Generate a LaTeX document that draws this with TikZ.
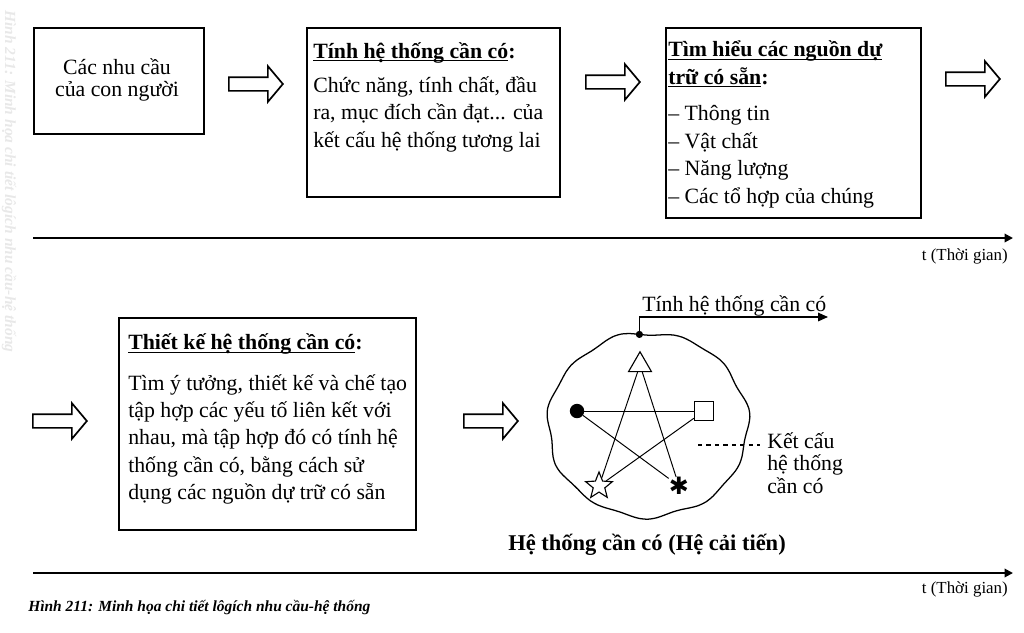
\documentclass[tikz,border=0pt]{standalone}
\usepackage{fontspec}
\setmainfont{Liberation Serif}
\newfontfamily\dingfont{DejaVu Sans}
\usepackage{xcolor}
\usepackage{tikz}
\usetikzlibrary{positioning, arrows.meta, calc, shapes.arrows, shapes.geometric}
\definecolor{MarkGray}{gray}{0.91}
\newcommand{\boxsize}{\fontsize{15.5}{19.5}\selectfont}
\newcommand{\headline}[1]{\rule{0pt}{14pt}\textbf{\underline{\smash{#1}}}}

\tikzset{
  frame/.style={draw, line width=1.2pt, inner sep=0pt},
  boxtext/.style={anchor=north west, inner sep=0pt, align=left, font=\boxsize},
  bigarrow/.style={single arrow, draw, line width=1.2pt, inner sep=0pt,
    inner ysep=0.15cm, minimum height=1.35cm,
    single arrow head extend=0.275cm, single arrow tip angle=100, anchor=tail},
  timeline/.style={line width=1.4pt, -{Triangle[length=6pt,width=6pt]}},
  timelabel/.style={anchor=east, inner sep=0pt, font=\fontsize{12}{14}\selectfont},
  link/.style={line width=0.7pt},
  figure/.style={draw, fill=white, line width=0.8pt, inner sep=0pt},
}

\begin{document}
\begin{tikzpicture}[x=0.025cm, y=-0.025cm,
    declare function={wob(\t)=1+0.016*sin(11*\t)+0.01*sin(7*\t+40);}]
  \useasboundingbox (0,0) rectangle (1024,632);
  \node[rotate=-90, anchor=west, inner sep=0pt, text=MarkGray,
    font=\fontsize{11}{13}\selectfont\bfseries\itshape] (mark) at (9,10)
    {Hình 211: Minh họa chi tiết lôgích nhu cầu-hệ thống};

  % row one
  \node[frame, minimum width=4.25cm, minimum height=2.65cm, anchor=north west] (needs) at (33,27) {};
  \node[anchor=north, inner sep=0pt, align=center, font=\fontsize{15.5}{16}\selectfont] (needst) at (117,58)
    {Các nhu cầu\\của con người};
  \node[bigarrow] (go1) at (228,84) {};

  \node[frame, minimum width=6.325cm, minimum height=4.225cm, anchor=north west] (props) at (306,27) {};
  \node[boxtext] (propst) at (313,38.5)
    {\headline{Tính hệ thống cần có}\textbf{:}\\[4.5pt]
     Chức năng, tính chất, đầu\\ra, mục đích cần đạt... của\\kết cấu hệ thống tương lai};
  \node[bigarrow] (go2) at (585,82) {};

  \node[frame, minimum width=6.375cm, minimum height=4.75cm, anchor=north west] (stock) at (665,27) {};
  \node[boxtext] (stockt) at (668,37)
    {\headline{Tìm hiểu các nguồn dự}\\\headline{trữ có sẵn}\textbf{:}\\[6.5pt]
     – Thông tin\\– Vật chất\\– Năng lượng\\– Các tổ hợp của chúng};
  \node[bigarrow] (go3) at (945,79) {};

  \coordinate (t1a) at (33,238);
  \coordinate (t1b) at (1013,238);
  \draw[timeline] (t1a) -- (t1b);
  \node[timelabel] (t1l) at (1008,256) {t (Thời gian)};

  % row two
  \node[bigarrow] (go4) at (32,421) {};
  \node[frame, minimum width=7.425cm, minimum height=5.3cm, anchor=north west] (design) at (118,317) {};
  \node[boxtext] (designt) at (128,330)
    {\headline{Thiết kế hệ thống cần có}\textbf{:}\\[9pt]
     Tìm ý tưởng, thiết kế và chế tạo\\tập hợp các yếu tố liên kết với\\nhau, mà tập hợp đó có tính hệ\\thống cần có, bằng cách sử\\dụng các nguồn dự trữ có sẵn};
  \node[bigarrow] (go5) at (463,421) {};

  \draw[line width=0.9pt] plot[smooth cycle, samples=72, domain=0:355, variable=\t]
    ({648+100*wob(\t)*cos(\t)}, {425-92*wob(\t)*sin(\t)});
  \coordinate (topdot) at ({648+100*wob(95)*cos(95)}, {425-92*wob(95)*sin(95)});
  \node[circle, fill=black, minimum size=0.18cm, inner sep=0pt] (tdot) at (topdot) {};
  \coordinate (propend) at (828,317);
  \draw[line width=1pt, -{Triangle[length=7pt,width=6pt]}] (tdot.center) |- (propend);
  \node[anchor=base west, inner sep=0pt, font=\boxsize] (proplbl) at (642,311) {Tính hệ thống cần có};

  \node[figure, regular polygon, regular polygon sides=3, minimum size=0.66cm] (tri) at (640,365) {};
  \node[circle, fill=black, minimum size=0.36cm, inner sep=0pt] (ball) at (577,411) {};
  \node[figure, rectangle, minimum size=0.48cm] (sq) at (704,411) {};
  \node[figure, star, star points=5, star point ratio=2.3, minimum size=0.7cm] (st) at (599,486) {};
  \node[inner sep=0pt, font=\dingfont\fontsize{17}{17}\selectfont] (ast) at (679,486) {✱};
  \draw[link] (tri) -- (st);
  \draw[link] (tri) -- (ast);
  \draw[link] (ball) -- (sq);
  \draw[link] (ball) -- (ast);
  \draw[link] (sq) -- (st);

  \coordinate (dsh) at (698,445);
  \node[anchor=north west, align=left, inner sep=0pt, font=\fontsize{15.5}{16}\selectfont] (struct) at (767,432)
    {Kết cấu\\hệ thống\\cần có};
  \draw[dashed, line width=0.9pt, shorten >=5pt] (dsh) -- (dsh -| struct.west);

  \node[inner sep=0pt, font=\fontsize{16}{18}\selectfont\bfseries] (sysname) at (647,545)
    {Hệ thống cần có (Hệ cải tiến)};

  \coordinate (t2a) at (33,573);
  \coordinate (t2b) at (1013,573);
  \draw[timeline] (t2a) -- (t2b);
  \node[timelabel] (t2l) at (1008,589) {t (Thời gian)};

  \node[anchor=west, inner sep=0pt, font=\fontsize{11}{13}\selectfont\bfseries\itshape] (caption) at (28,608)
    {Hình 211: Minh họa chi tiết lôgích nhu cầu-hệ thống};
\end{tikzpicture}
\end{document}
